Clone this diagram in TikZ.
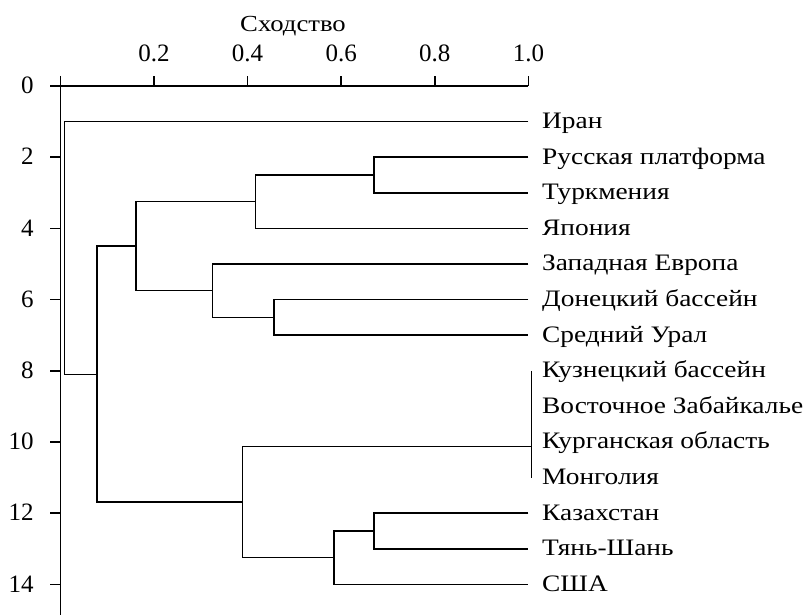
\documentclass[tikz,border=0pt]{standalone}
\usepackage{fontspec}
\setmainfont{Liberation Serif}
\newfontfamily\leaffont{Liberation Serif}[FakeStretch=1.16]

\begin{document}
\begin{tikzpicture}[x=468pt, y=-35.6pt, line width=1.6pt,
                    leaf_style/.style={anchor=west, inner xsep=13pt, inner ysep=0pt,
                                       text height=16pt, text depth=2pt,
                                       font=\leaffont\fontsize{23.6}{28}\selectfont},
                    tick_style/.style={inner sep=0pt, font=\fontsize{25}{30}\selectfont}
   ]
   \useasboundingbox (-0.1291,-2.4157) rectangle (1.5932,14.8596);
   % Axes
   \draw (-0.0214,0) -- (1,0);
   \draw (0,-0.281) -- (0,14.86);
   \foreach \s in {0.2,0.4,0.6,0.8,1.0} {
      \draw (\s,0) -- (\s,-0.281);
      \node[tick_style, anchor=base] at (\s,-0.683) {\s};
   }
   \foreach \v in {0,2,...,14} {
      \draw (0,\v) -- (-0.0214,\v);
      \node[tick_style, anchor=base east] at (-0.0553,\v+0.215) {\v};
   }
   \node[inner sep=0pt, anchor=base, font=\leaffont\fontsize{23}{28}\selectfont] (title) at (0.497,-1.525) {Сходство};
   % Leaves
   \node[leaf_style] (iran) at (1,1) {Иран};
   \node[leaf_style] (rus) at (1,2) {Русская платформа};
   \node[leaf_style] (turk) at (1,3) {Туркмения};
   \node[leaf_style] (jap) at (1,4) {Япония};
   \node[leaf_style] (weur) at (1,5) {Западная Европа};
   \node[leaf_style] (don) at (1,6) {Донецкий бассейн};
   \node[leaf_style] (ural) at (1,7) {Средний Урал};
   \node[leaf_style] (kuz) at (1,8) {Кузнецкий бассейн};
   \node[leaf_style] (zab) at (1,9) {Восточное Забайкалье};
   \node[leaf_style] (kurg) at (1,10) {Курганская область};
   \node[leaf_style] (mong) at (1,11) {Монголия};
   \node[leaf_style] (kaz) at (1,12) {Казахстан};
   \node[leaf_style] (tian) at (1,13) {Тянь-Шань};
   \node[leaf_style] (usa) at (1,14) {США};
   % Merges
   \coordinate (m_rt) at (0.670,2.5);
   \coordinate (m_rtj) at (0.417,3.25);
   \coordinate (m_du) at (0.456,6.5);
   \coordinate (m_wdu) at (0.325,5.75);
   \coordinate (m_up) at (0.161,4.5);
   \coordinate (m_sib) at (1.0066,10.13);
   \coordinate (m_kt) at (0.670,12.5);
   \coordinate (m_ktu) at (0.585,13.25);
   \coordinate (m_low) at (0.3895,11.69);
   \coordinate (m_all) at (0.0776,8.1);
   \coordinate (m_root) at (0.0083,4.5);

   \draw (rus.west) -| (m_rt) |- (turk.west);
   \draw (m_rt) -| (m_rtj) |- (jap.west);
   \draw (don.west) -| (m_du) |- (ural.west);
   \draw (weur.west) -| (m_wdu) |- (m_du);
   \draw (m_rtj) -| (m_up) |- (m_wdu);
   \draw (kaz.west) -| (m_kt) |- (tian.west);
   \draw (m_kt) -| (m_ktu) |- (usa.west);
   \draw (kuz.west -| m_sib) -- (mong.west -| m_sib);
   \draw (m_sib) -| (m_low) |- (m_ktu);
   \draw (m_up) -| (m_all) |- (m_low);
   \draw (iran.west) -| (m_root) |- (m_all);
\end{tikzpicture}
\end{document}
